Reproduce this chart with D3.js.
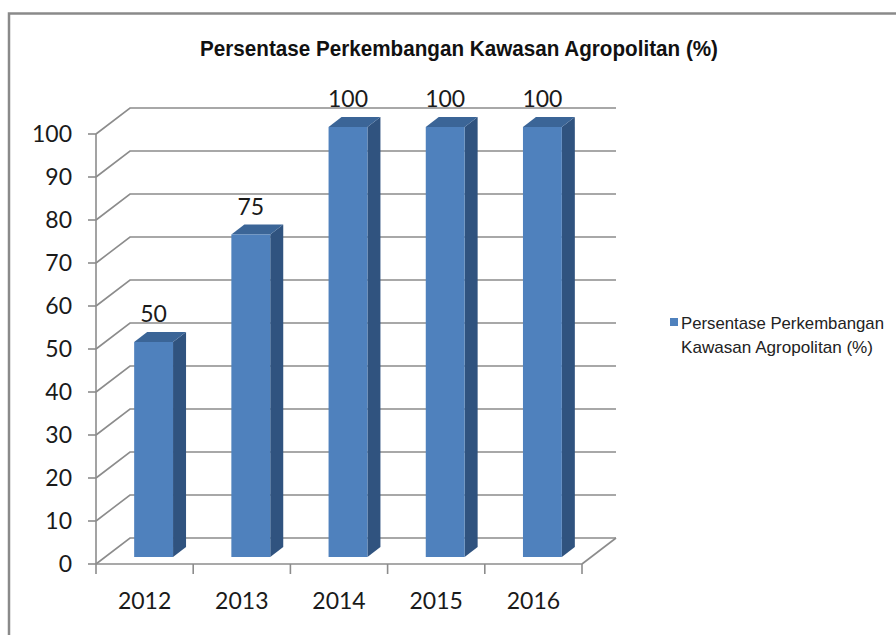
<!DOCTYPE html>
<html>
<head>
<meta charset="utf-8">
<script src="https://cdn.jsdelivr.net/npm/d3@7"></script>
<style>
  body { margin: 0; background: #fff; }
  svg { display: block; }
</style>
</head>
<body>
<script>
// data
const years = ["2012", "2013", "2014", "2015", "2016"];
const values = [50, 75, 100, 100, 100];
const yTicks = [0, 10, 20, 30, 40, 50, 60, 70, 80, 90, 100];
const seriesName = ["Persentase Perkembangan", "Kawasan Agropolitan (%)"];
const title = "Persentase Perkembangan Kawasan Agropolitan (%)";

const width = 896, height = 635;
const svg = d3.select("body").append("svg")
    .attr("width", width)
    .attr("height", height);

// outer frame
svg.append("path")
    .attr("d", "M9," + height + " V13.5 H" + width)
    .attr("fill", "none")
    .attr("stroke", "#8a8a8a")
    .attr("stroke-width", 2.5);

// front plane scales, depth is a fixed pixel offset
const x = d3.scaleBand().domain(years).range([96, 582]).paddingInner(0.6).paddingOuter(0.3);
const y = d3.scaleLinear().domain([0, 100]).range([564, 134]);
const depthX = 34, depthY = -26;
const barOff = [9, -7];     // bar front face sits a bit behind the front plane
const barSide = [13, -10];  // bar depth

const gridColor = "#8c8c8c";
const grid = svg.append("g").attr("stroke", gridColor).attr("stroke-width", 1.6).attr("fill", "none");

// back wall lines and left wall diagonals
yTicks.forEach(t => {
    const yy = y(t);
    grid.append("path")
        .attr("d", `M96,${yy} L${96 + depthX},${yy + depthY} H${582 + depthX}`);
});
// floor right edge
grid.append("line")
    .attr("x1", 582).attr("y1", y(0))
    .attr("x2", 582 + depthX).attr("y2", y(0) + depthY);

// axes
const axis = svg.append("g").attr("stroke", gridColor).attr("stroke-width", 1.6);
axis.append("line").attr("x1", 96).attr("x2", 96).attr("y1", y(100)).attr("y2", y(0));
axis.append("line").attr("x1", 96).attr("x2", 582).attr("y1", y(0)).attr("y2", y(0));
yTicks.forEach(t => {
    axis.append("line").attr("x1", 88).attr("x2", 96).attr("y1", y(t)).attr("y2", y(t));
});
const step = x.step();
d3.range(years.length + 1).forEach(i => {
    const xx = 96 + i * step;
    axis.append("line").attr("x1", xx).attr("x2", xx).attr("y1", y(0)).attr("y2", y(0) + 10);
});

// tick labels
svg.append("g")
    .selectAll("text")
    .data(yTicks)
    .join("text")
    .attr("x", 72)
    .attr("y", d => y(d))
    .attr("dy", "0.36em")
    .attr("text-anchor", "end")
    .attr("font-family", "Lato, sans-serif")
    .attr("font-size", 23)
    .attr("fill", "#1a1a1a")
    .text(d => d);

svg.append("g")
    .selectAll("text")
    .data(years)
    .join("text")
    .attr("x", d => x(d) + x.bandwidth() / 2)
    .attr("y", 609)
    .attr("text-anchor", "middle")
    .attr("font-family", "Lato, sans-serif")
    .attr("font-size", 23)
    .attr("fill", "#1a1a1a")
    .text(d => d);

// 3D bars
const frontColor = "#4f81bd", sideColor = "#30537f", topColor = "#3b6597";
const bars = svg.append("g");
years.forEach((yr, i) => {
    const x0 = x(yr) + barOff[0];
    const x1 = x0 + x.bandwidth();
    const yb = y(0) + barOff[1];
    const yt = y(values[i]) + barOff[1];
    const [sx, sy] = barSide;
    bars.append("path")
        .attr("d", `M${x1},${yt} L${x1 + sx},${yt + sy} V${yb + sy} L${x1},${yb} Z`)
        .attr("fill", sideColor);
    bars.append("path")
        .attr("d", `M${x0},${yt} L${x0 + sx},${yt + sy} H${x1 + sx} L${x1},${yt} Z`)
        .attr("fill", topColor);
    bars.append("rect")
        .attr("x", x0).attr("y", yt)
        .attr("width", x1 - x0).attr("height", yb - yt)
        .attr("fill", frontColor);
    bars.append("text")
        .attr("x", (x0 + x1) / 2)
        .attr("y", yt + sy - 10)
        .attr("text-anchor", "middle")
        .attr("font-family", "Lato, sans-serif")
        .attr("font-size", 23)
        .attr("fill", "#1a1a1a")
        .text(values[i]);
});

// title
svg.append("text")
    .attr("x", 459)
    .attr("y", 56)
    .attr("text-anchor", "middle")
    .attr("font-family", "'Liberation Sans', Arial, sans-serif")
    .attr("font-weight", "bold")
    .attr("font-size", 22)
    .attr("textLength", 518)
    .attr("lengthAdjust", "spacingAndGlyphs")
    .attr("fill", "#111")
    .text(title);

// legend
const legend = svg.append("g");
legend.append("rect")
    .attr("x", 670).attr("y", 318)
    .attr("width", 8).attr("height", 8)
    .attr("fill", frontColor);
legend.selectAll("text")
    .data(seriesName)
    .join("text")
    .attr("x", 681)
    .attr("y", (d, i) => 329 + i * 24)
    .attr("font-family", "'Liberation Sans', Arial, sans-serif")
    .attr("font-size", 17)
    .attr("textLength", (d, i) => i === 0 ? 203 : 192)
    .attr("lengthAdjust", "spacingAndGlyphs")
    .attr("fill", "#222")
    .text(d => d);
</script>
</body>
</html>
